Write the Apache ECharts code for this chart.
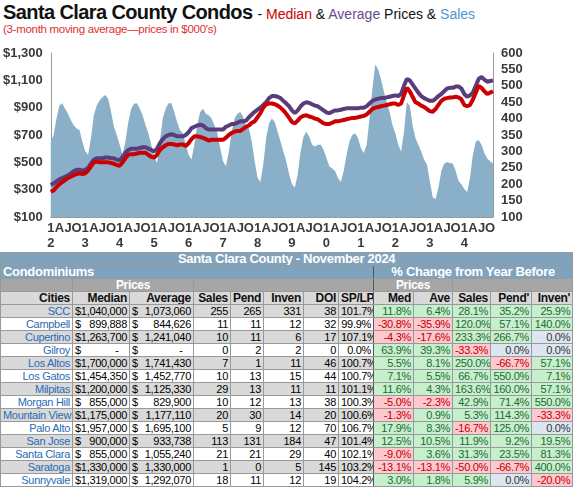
<!DOCTYPE html>
<html>
<head>
<meta charset="utf-8">
<script src="https://cdn.jsdelivr.net/npm/echarts@6/dist/echarts.min.js"></script>
<style>
body { margin: 0; width: 575px; height: 501px; overflow: hidden; background: #fff; font-family: "Liberation Sans", Arial, sans-serif; position: relative; }
#title { position: absolute; left: 3px; top: 1px; font-size: 20px; font-weight: bold; letter-spacing: -0.6px; color: #111; white-space: nowrap; }
#title span { font-size: 14px; font-weight: normal; letter-spacing: 0; }
#sub { position: absolute; left: 3px; top: 23px; font-size: 11.5px; color: #e03030; letter-spacing: -0.3px; }
#chart { position: absolute; left: 0; top: 38px; width: 575px; height: 214px; }
#tbl { position: absolute; left: 0; top: 252px; width: 572px; border-collapse: collapse; table-layout: fixed; font-size: 11px; letter-spacing: -0.3px; }
#tbl td { box-sizing: border-box; border: 1px solid #999; padding: 0 2px; height: 12.6px; line-height: 12px; overflow: hidden; white-space: nowrap; text-align: right; }
.hdr td { background: #7fa3bd; color: #fff; font-weight: bold; font-size: 13px; }
.prc td { background: #a6a6a6; color: #fff; font-weight: bold; font-size: 12px; }
.col td { background: #d9d9d9; font-weight: bold; font-size: 12px; color: #111; }
.city { color: #2a6bb5; }
.g { background: #c6efce; color: #1e6b2e; }
.r { background: #ffc7ce; color: #c00000; }
.z { background: #dce6f1; color: #333; }
.dl { float: left; }
</style>
</head>
<body>
<div id="title">Santa Clara County Condos <span>- <span style="color:#cc0000">Median</span> &amp; <span style="color:#6a4a8c">Average</span> Prices &amp; <span style="color:#4a9ad8">Sales</span></span></div>
<div id="sub">(3-month moving average—prices in $000's)</div>
<div id="chart"></div>
<table id="tbl"></table>
<script>
// monthly, Jan 2012 .. Nov 2024
var startYear = 2012;
var monthTicks = ['1', '', '', 'A', '', '', 'J', '', '', 'O', '', ''];
var avgPrice = [335,345,360,375,385,395,405,420,435,445,445,440,
  445,460,490,520,530,530,530,535,535,530,530,520,
  515,540,570,590,600,600,600,605,610,610,600,590,
  580,600,640,670,690,700,705,700,690,690,690,700,
  720,750,760,770,775,770,750,740,740,740,740,740,
  740,760,770,780,780,790,800,800,805,830,850,870,
  885,900,920,940,970,985,985,980,970,950,930,910,
  880,860,880,910,930,940,935,925,915,910,895,880,
  865,860,870,880,880,885,890,895,895,895,895,895,
  900,900,910,930,950,960,965,970,970,975,980,985,
  990,985,1000,1060,1110,1100,1070,1040,1010,985,970,960,
  950,950,965,985,1000,1020,1040,1045,1045,1055,1055,1040,
  1000,980,990,1010,1060,1110,1125,1105,1090,1095,1100];
var medPrice = [285,295,320,340,355,370,385,395,405,415,420,415,
  420,440,470,500,505,500,500,500,500,495,490,480,
  475,500,530,555,560,560,565,570,570,570,555,540,
  535,555,590,610,625,635,635,630,625,630,630,620,
  640,670,690,690,685,680,670,660,665,665,665,665,
  665,680,700,715,725,730,730,745,760,770,790,800,
  830,860,900,925,930,930,925,915,900,880,855,825,
  795,785,805,830,840,845,835,830,820,815,800,785,
  780,780,790,800,800,805,810,815,820,825,825,830,
  835,840,850,870,890,900,905,910,915,920,925,930,
  930,920,930,990,1045,1020,980,940,930,915,905,890,
  875,870,890,920,950,965,970,975,975,980,975,960,
  920,910,920,960,1010,1060,1045,1020,1000,1010,1020];
var sales = [330,350,400,440,447,430,415,395,380,370,365,330,
  300,290,340,410,440,455,465,472,460,420,375,350,
  320,290,330,390,430,445,447,430,410,380,355,320,
  285,265,330,400,430,447,447,420,390,365,355,320,
  290,275,320,380,420,430,415,410,400,380,355,310,
  270,255,300,360,400,415,420,405,380,370,330,270,
  220,207,260,340,385,400,390,360,330,300,270,230,
  200,190,230,300,345,360,345,320,315,320,320,305,
  280,255,248,240,220,207,240,290,330,350,355,340,
  310,295,320,400,490,565,550,520,483,450,420,380,
  355,320,300,360,450,440,380,340,320,300,275,260,
  210,160,155,190,240,262,268,265,263,240,210,200,
  185,176,220,290,330,335,320,295,278,270,263];

var cats = [];
for (var i = 0; i < sales.length; i++) {
  var m = i % 12;
  var lab = monthTicks[m];
  if (m == 0) lab = lab + '\n' + ((startYear + Math.floor(i / 12)) % 10);
  cats.push(lab);
}

var myChart = echarts.init(document.getElementById('chart'));
var axisFont = { color: '#3a3a3a', fontSize: 13, fontWeight: 'bold', fontFamily: 'Liberation Sans' };
myChart.setOption({
  animation: false,
  grid: { left: 50, right: 82, top: 15, bottom: 35 },
  xAxis: {
    type: 'category', data: cats, boundaryGap: false,
    axisTick: { show: false },
    axisLine: { lineStyle: { color: '#999' } },
    axisLabel: Object.assign({ interval: 0, margin: 4, lineHeight: 15 }, axisFont)
  },
  yAxis: [{
    type: 'value', min: 100, max: 1300, interval: 200,
    splitLine: { show: false },
    axisLine: { show: true, lineStyle: { color: '#999' } },
    axisLabel: Object.assign({ formatter: function (v) { return '$' + v.toLocaleString('en-US'); } }, axisFont)
  }, {
    type: 'value', min: 100, max: 600, interval: 50,
    splitLine: { show: false },
    axisLine: { show: true, lineStyle: { color: '#999' } },
    axisLabel: axisFont
  }],
  series: [{
    name: 'Sales', type: 'line', yAxisIndex: 1, data: sales, symbol: 'none',
    lineStyle: { width: 0 }, areaStyle: { color: '#8aafc8', opacity: 1 }
  }, {
    name: 'Average', type: 'line', data: avgPrice, symbol: 'none',
    lineStyle: { color: '#5b3c7a', width: 4 }
  }, {
    name: 'Median', type: 'line', data: medPrice, symbol: 'none',
    lineStyle: { color: '#cc0000', width: 4 }
  }]
});

// table
var cities = ['SCC','Campbell','Cupertino','Gilroy','Los Altos','Los Gatos','Milpitas','Morgan Hill','Mountain View','Palo Alto','San Jose','Santa Clara','Saratoga','Sunnyvale'];
var median = [1040000,899888,1263700,0,1700000,1454350,1200000,855000,1175000,1957000,900000,855000,1330000,1319000];
var average = [1073060,844626,1241040,0,1741430,1452770,1125330,829900,1177110,1695100,933738,1055240,1330000,1292070];
var salesCnt = [255,11,10,0,7,10,29,10,20,5,113,21,1,18];
var pend = [265,11,11,2,1,13,13,12,30,9,131,21,0,11];
var inven = [331,12,6,2,11,15,11,13,14,12,184,29,5,12];
var doi = [38,32,17,0,46,44,11,38,20,70,47,40,145,19];
var spLp = [101.7,99.9,107.1,0.0,100.7,100.7,101.1,100.3,100.6,106.7,101.4,102.1,103.2,104.2];
var chMed = [11.8,-30.8,-4.3,63.9,5.5,7.1,11.6,-5.0,-1.3,17.9,12.5,-9.0,-13.1,3.0];
var chAve = [6.4,-35.9,-17.6,39.3,8.1,5.5,4.3,-2.3,0.9,8.3,10.5,3.6,-13.1,1.8];
var chSales = [28.1,120.0,233.3,-33.3,250.0,66.7,163.6,42.9,5.3,-16.7,11.9,31.3,-50.0,5.9];
var chPend = [35.2,57.1,266.7,0.0,-66.7,550.0,160.0,71.4,114.3,125.0,9.2,23.5,-66.7,0.0];
var chInven = [25.9,140.0,0.0,0.0,57.1,7.1,57.1,550.0,-33.3,0.0,19.5,81.3,400.0,-20.0];

var widths = [72,57,64,37,33,40,35,35,40,39,38,41,41];
var html = '<colgroup>' + widths.map(function (w) { return '<col style="width:' + w + 'px">'; }).join('') + '</colgroup>';
html += '<tr class="hdr"><td colspan="13" style="text-align:center">Santa Clara County - November 2024</td></tr>';
html += '<tr class="hdr"><td colspan="8" style="text-align:left;border-right:1px solid #555">Condominiums</td><td colspan="5" style="text-align:center">% Change from Year Before</td></tr>';
html += '<tr class="prc"><td></td><td colspan="2" style="text-align:center">Prices</td><td colspan="5" style="border-right:1px solid #555"></td><td colspan="2" style="text-align:center">Prices</td><td colspan="3"></td></tr>';
var heads = ['Cities','Median','Average','Sales','Pend','Inven','DOI','SP/LP','Med','Ave','Sales',"Pend'","Inven'"];
html += '<tr class="col">' + heads.map(function (h, k) { return '<td' + (k == 7 ? ' style="border-right:1px solid #555"' : '') + '>' + h + '</td>'; }).join('') + '</tr>';
function money(v) { return '<span class="dl">$</span>' + (v ? v.toLocaleString('en-US') : '-&nbsp;&nbsp;&nbsp;'); }
function pct(v) { var c = v > 0 ? 'g' : (v < 0 ? 'r' : 'z'); return '<td class="' + c + '">' + v.toFixed(1) + '%</td>'; }
for (var j = 0; j < cities.length; j++) {
  var bg = j % 2 == 0 ? '#d9d9d9' : '#fff';
  html += '<tr style="background:' + bg + '"><td class="city">' + cities[j] + '</td><td>' + money(median[j]) + '</td><td>' + money(average[j]) +
    '</td><td>' + salesCnt[j] + '</td><td>' + pend[j] + '</td><td>' + inven[j] + '</td><td>' + doi[j] +
    '</td><td style="border-right:1px solid #555">' + spLp[j].toFixed(1) + '%</td>' +
    pct(chMed[j]) + pct(chAve[j]) + pct(chSales[j]) + pct(chPend[j]) + pct(chInven[j]) + '</tr>';
}
document.getElementById('tbl').innerHTML = html;
</script>
</body>
</html>
